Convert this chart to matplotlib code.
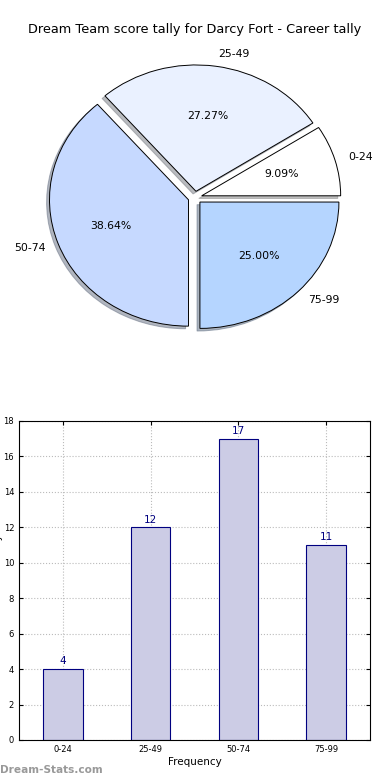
import matplotlib
matplotlib.use('Agg')
import matplotlib.pyplot as plt
import numpy as np

# data
categorias = ['0-24', '25-49', '50-74', '75-99']
valores = [4, 12, 17, 11]
colores_pie = ['#FFFFFF', '#EAF1FF', '#C6D9FF', '#B5D5FF']
titulo = 'Dream Team score tally for Darcy Fort - Career tally'

fig = plt.figure(figsize=(3.9, 7.8), dpi=100)

# pie
ax1 = fig.add_axes([0.0545, 0.5442, 0.891, 0.405])
wedges, textos, autotextos = ax1.pie(
    valores, labels=categorias, colors=colores_pie, explode=[0.05] * 4,
    autopct='%1.2f%%', shadow={'ox': -0.015, 'oy': -0.015, 'shade': 0.5},
    startangle=0, counterclock=True, labeldistance=1.1, pctdistance=0.6,
    wedgeprops={'edgecolor': 'black', 'linewidth': 0.7},
    textprops={'fontsize': 7.8})
for w in wedges:
    w.set_zorder(3)
for t in textos:
    t.set_horizontalalignment('left' if t.get_position()[0] > 0 else 'right')
ax1.set_aspect('auto')
ax1.set_xlim(-1.25, 1.25)
ax1.set_ylim(-1.25, 1.25)
fig.text(0.5, 0.962, titulo, ha='center', va='center', fontsize=9.3)

# bars
ax2 = fig.add_axes([0.0487, 0.0513, 0.9, 0.409])
x = np.arange(len(categorias))
barras = ax2.bar(x, valores, width=0.45, color='#CCCCE5', edgecolor='#000080', linewidth=0.8)
for b, v in zip(barras, valores):
    ax2.text(b.get_x() + b.get_width() / 2, v + 0.15, str(v), ha='center', va='bottom',
             fontsize=7.5, color='#000080')
ax2.set_xlim(-0.5, 3.5)
ax2.set_ylim(0, 18)
ax2.set_yticks(range(0, 19, 2))
ax2.set_xticks(x)
ax2.set_xticklabels(categorias)
ax2.tick_params(axis='both', labelsize=6, direction='in', top=True, right=True, length=3)
ax2.grid(True, linestyle=':', color='#BBBBBB', linewidth=0.8)
ax2.set_axisbelow(True)
ax2.set_xlabel('Frequency', fontsize=7.5, labelpad=2)
ax2.set_ylabel('Dream Team Tally', fontsize=7.5)
ax2.yaxis.set_label_coords(-0.046, 0.5)

fig.text(0.0, 0.013, 'Dream-Stats.com', ha='left', va='center', fontsize=7.6,
         color='#999999', fontweight='bold')

plt.savefig('out.png', dpi=100)
